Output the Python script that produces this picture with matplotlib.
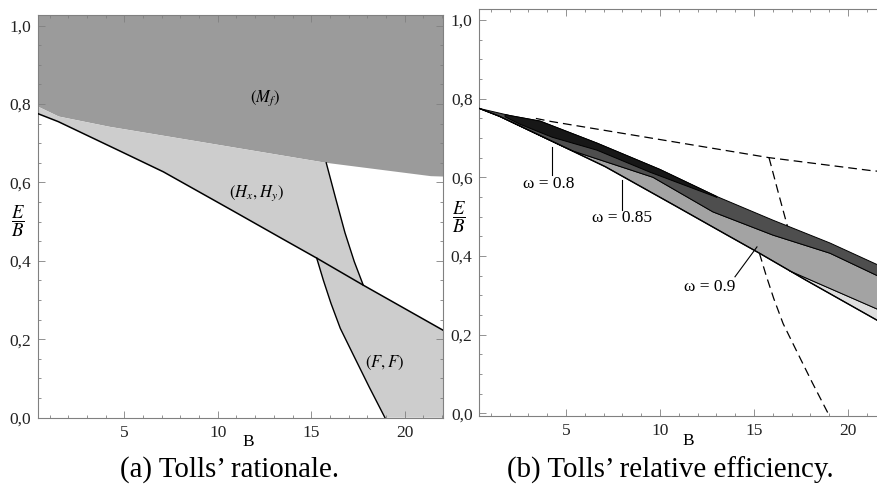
import numpy as np
import matplotlib
matplotlib.use("Agg")
import matplotlib.pyplot as plt
from matplotlib.ticker import MultipleLocator, FuncFormatter

plt.rcParams['font.family'] = ['Liberation Serif', 'DejaVu Serif']
plt.rcParams['mathtext.fontset'] = 'stix'

# ---------------- data (B on x, E/B on y) ----------------
# lower solid line (boundary of (H_x,H_y) / (F,F))
L_x = [0.4, 1.47, 4.77, 7.09, 10.83, 13.50, 15.29, 17.78, 22.05]
L_y = [0.775, 0.755, 0.680, 0.627, 0.527, 0.455, 0.407, 0.338, 0.223]
# lower boundary of (M_f) region
DB_x = [0.4, 1.5, 4.2, 9.0, 15.8, 21.4, 22.05]
DB_y = [0.793, 0.768, 0.742, 0.704, 0.650, 0.616, 0.615]
# right boundary of (H_x,H_y)
H_x = [15.8, 16.3, 16.8, 17.3, 17.78]
H_y = [0.650, 0.560, 0.472, 0.398, 0.338]
# left boundary of (F,F)
F_x = [15.29, 15.65, 16.05, 16.55, 17.25, 18.1, 18.94]
F_y = [0.407, 0.350, 0.292, 0.228, 0.160, 0.078, 0.0]

# right panel: efficiency bands
Dtop_x = [0.4, 2.02, 3.62, 6.65, 10.0, 13.03, 16.01, 19.04, 21.6, 22.05]
Dtop_y = [0.775, 0.757, 0.743, 0.687, 0.620, 0.551, 0.491, 0.433, 0.377, 0.367]
Dlow_x = [0.4, 1.47, 4.77, 5.37, 9.63, 12.82, 16.01, 19.04, 21.6, 22.05]
Dlow_y = [0.775, 0.755, 0.680, 0.667, 0.600, 0.512, 0.453, 0.407, 0.349, 0.338]
W8low_x = [1.76, 2.55, 4.26, 6.65, 9.47, 13.03]
W8low_y = [0.754, 0.735, 0.702, 0.669, 0.613, 0.549]
C1_x = [16.9, 21.6, 22.05]
C1_y = [0.362, 0.264, 0.255]
dash_start = 3.4   # upper dashed boundary is hidden left of this

xlim = (0.4, 22.05)
yticks = [0.0, 0.2, 0.4, 0.6, 0.8, 1.0]
xticks = [5, 10, 15, 20]

def seg(xs, ys, a, b):
    xs = np.asarray(xs, float); ys = np.asarray(ys, float)
    m = (xs > a) & (xs < b)
    xx = np.concatenate([[a], xs[m], [b]])
    return xx, np.interp(xx, xs, ys)

W, Hh = 878, 494
fig = plt.figure(figsize=(W / 100, Hh / 100), dpi=100)

def ax_at(l, r, b, t):
    return fig.add_axes([l / W, 1 - b / Hh, (r - l) / W, (b - t) / Hh])

axL = ax_at(38.3, 443.1, 417.7, 15)
axR = ax_at(479.5, 886.5, 416, 9)

def style(ax, ylim):
    ax.set_xlim(*xlim)
    ax.set_ylim(*ylim)
    ax.set_xticks(xticks)
    ax.set_yticks(yticks)
    ax.xaxis.set_minor_locator(MultipleLocator(1))
    ax.yaxis.set_minor_locator(MultipleLocator(0.05))
    ax.yaxis.set_major_formatter(FuncFormatter(lambda v, p: f"{v:.1f}".replace('.', ',')))
    ax.tick_params(which='both', direction='in', top=True, right=True,
                   color='#808080', width=0.6, labelsize=12.5, labelcolor='#222222')
    ax.tick_params(which='major', length=5)
    ax.tick_params(which='minor', length=2.5)
    ax.tick_params(axis='x', pad=5)
    ax.tick_params(axis='y', pad=5)
    for s in ax.spines.values():
        s.set_color('#808080')
        s.set_linewidth(0.8)

style(axL, (0, 1.027))
style(axR, (-0.007, 1.028))

# ---------------- left panel ----------------
ax = axL
dx, dy = seg(DB_x, DB_y, *xlim)
ax.fill(np.concatenate([dx, [xlim[1], xlim[0]]]), np.concatenate([dy, [1.2, 1.2]]),
        color='#9b9b9b', lw=0, zorder=1)
tx, ty = seg(DB_x, DB_y, xlim[0], H_x[0])
bx, by = seg(L_x, L_y, xlim[0], H_x[-1])
ax.fill(np.concatenate([tx, H_x, bx[::-1]]), np.concatenate([ty, H_y, by[::-1]]),
        color='#cdcdcd', lw=0, zorder=1)
fx, fy = seg(L_x, L_y, F_x[0], xlim[1])
ax.fill(np.concatenate([fx, [xlim[1], F_x[-1]], F_x[::-1]]),
        np.concatenate([fy, [0, 0], F_y[::-1]]), color='#cdcdcd', lw=0, zorder=1)
ax.plot(L_x, L_y, color='black', lw=1.1, zorder=3)
ax.plot(H_x, H_y, color='black', lw=1.0, zorder=3)
ax.plot(F_x, F_y, color='black', lw=1.0, zorder=3)
ax.text(12.52, 0.816, r'$(M_f)$', fontsize=12, ha='center', va='center')
ax.text(12.09, 0.573, r'$(H_x,H_y)$', fontsize=12, ha='center', va='center')
ax.text(18.94, 0.140, r'$(F,F)$', fontsize=12, ha='center', va='center')

# ---------------- right panel ----------------
ax = axR
dash = dict(color='black', lw=0.9, dashes=(7, 4), zorder=1)
ux0, uy0 = seg(DB_x, DB_y, dash_start, xlim[1])
ax.plot(ux0, uy0, **dash)
ax.plot(H_x, H_y, **dash)
ax.plot(F_x, F_y, **dash)

ek = dict(edgecolor='black', lw=0.7)
# light sliver
cx, cy = seg(C1_x, C1_y, C1_x[0], xlim[1])
lx, ly = seg(L_x, L_y, C1_x[0], xlim[1])
ax.fill(np.concatenate([cx, lx[::-1]]), np.concatenate([cy, ly[::-1]]),
        facecolor='#dedede', zorder=2, **ek)
# omega = 0.9 band
tx, ty = seg(Dlow_x, Dlow_y, *xlim)
l2x, l2y = seg(L_x, L_y, xlim[0], C1_x[0])
ax.fill(np.concatenate([tx, cx[::-1], l2x[::-1]]),
        np.concatenate([ty, cy[::-1], l2y[::-1]]), facecolor='#a3a3a3', zorder=3, **ek)
# omega = 0.85 band
ux, uy = seg(Dtop_x, Dtop_y, *xlim)
ax.fill(np.concatenate([ux, tx[::-1]]), np.concatenate([uy, ty[::-1]]),
        facecolor='#4e4e4e', zorder=4, **ek)
# omega = 0.8 band
sx, sy = seg(Dtop_x, Dtop_y, W8low_x[0], W8low_x[-1])
ax.fill(np.concatenate([sx, W8low_x[::-1]]), np.concatenate([sy, W8low_y[::-1]]),
        facecolor='#171717', zorder=5, **ek)
ax.plot(L_x, L_y, color='black', lw=1.0, zorder=6)

lab = dict(fontsize=12.5, ha='center', va='center', zorder=7)
ax.plot([4.26, 4.26], [0.677, 0.606], color='black', lw=0.8, zorder=7)
ax.text(4.10, 0.584, 'ω = 0.8', **lab)
ax.plot([7.98, 7.98], [0.593, 0.517], color='black', lw=0.8, zorder=7)
ax.text(7.98, 0.496, 'ω = 0.85', **lab)
ax.plot([15.16, 13.99], [0.423, 0.347], color='black', lw=0.8, zorder=7)
ax.text(12.66, 0.321, 'ω = 0.9', **lab)

# ---------------- labels & captions ----------------
def ftext(px, py, s, **kw):
    fig.text(px / W, 1 - py / Hh, s, ha='center', va='center', **kw)

ftext(18, 221, r'$\dfrac{E}{B}$', fontsize=13.5)
ftext(459, 217, r'$\dfrac{E}{B}$', fontsize=13.5)
ftext(248, 442, 'B', fontsize=12.5)
ftext(688, 441, 'B', fontsize=12.5)
ftext(230, 470, '(a) Tolls\u2019 rationale.', fontsize=20.8)
ftext(670, 470, '(b) Tolls\u2019 relative efficiency.', fontsize=20.8)

fig.savefig('out.png', dpi=100)
